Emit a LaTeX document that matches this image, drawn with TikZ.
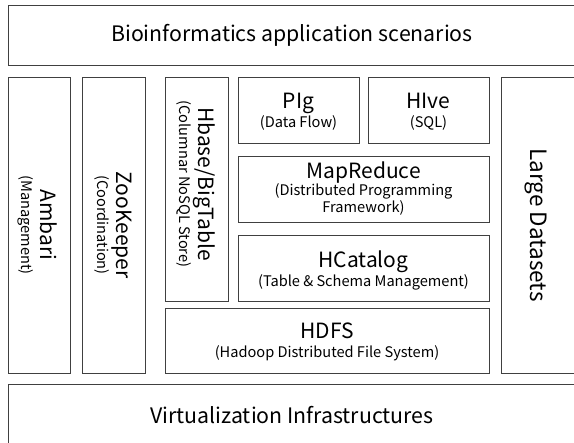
\documentclass[tikz,border=0pt]{standalone}
\usepackage{fontspec}
\setmainfont{Noto Sans CJK KR}
\tikzset{
  layer/.style={draw=black!75, line width=0.8pt, rectangle, inner sep=0pt},
  label/.style={inner sep=0pt, align=center, font=\smalltxt},
  vlabel/.style={label, rotate=-90},
}
\newcommand{\titletxt}{\fontsize{21.3}{26}\selectfont}
\newcommand{\bigtxt}{\fontsize{21}{26}\selectfont}
\newcommand{\smalltxt}{\fontsize{14.6}{19}\selectfont}
\begin{document}
\begin{tikzpicture}[x=1pt,y=-1pt]
  \useasboundingbox (0,0) rectangle (574,443);
  % top and bottom layers
  \node[layer, minimum width=568pt, minimum height=60pt] (apps) at (292,35) {};
  \node[label] at (apps) {\titletxt Bioinformatics application scenarios};
  \node[layer, minimum width=568pt, minimum height=62pt] (virt) at (292,415) {};
  \node[label] at (virt) {\titletxt Virtualization Infrastructures};
  % vertical side columns
  \node[layer, minimum width=62pt, minimum height=296pt] (ambari) at (39,225) {};
  \node[vlabel] at ([xshift=-2pt]ambari) {%
    \begin{tabular}{@{}c@{}}
      \bigtxt Ambari\\
      (Management)
    \end{tabular}};
  \node[layer, minimum width=63pt, minimum height=296pt] (zoo) at (113.5,225) {};
  \node[vlabel] at ([xshift=-2pt]zoo) {%
    \begin{tabular}{@{}c@{}}
      \bigtxt ZooKeeper\\
      (Coordination)
    \end{tabular}};
  \node[layer, minimum width=63pt, minimum height=224pt] (hbase) at (196.5,189) {};
  \node[vlabel] at ([xshift=-2pt,yshift=5pt]hbase) {%
    \begin{tabular}{@{}c@{}}
      \bigtxt Hbase/BigTable\\
      (Columnar NoSQL Store)
    \end{tabular}};
  \node[layer, minimum width=76pt, minimum height=296pt] (data) at (539,225) {};
  \node[vlabel] at ([xshift=-3pt]data) {\fontsize{22.5}{26}\selectfont Large Datasets};
  % hadoop stack
  \node[layer, minimum width=121pt, minimum height=66pt] (pig) at (298.5,110) {};
  \node[label] at ([yshift=-3pt]pig) {%
    \begin{tabular}{@{}c@{}}
      \bigtxt PIg\\
      (Data Flow)
    \end{tabular}};
  \node[layer, minimum width=121pt, minimum height=66pt] (hive) at (428.5,110) {};
  \node[label] at ([yshift=-3pt]hive) {%
    \begin{tabular}{@{}c@{}}
      \bigtxt HIve\\
      (SQL)
    \end{tabular}};
  \node[layer, minimum width=251pt, minimum height=66pt] (mapred) at (363.5,189) {};
  \node[label] at ([yshift=-1pt]mapred) {%
    \begin{tabular}{@{}c@{}}
      \bigtxt MapReduce\\[-2pt]
      (Distributed Programming\\[-2pt]
      Framework)
    \end{tabular}};
  \node[layer, minimum width=251pt, minimum height=66pt] (hcat) at (363.5,268) {};
  \node[label] at ([yshift=-3pt]hcat) {%
    \begin{tabular}{@{}c@{}}
      \bigtxt HCatalog\\
      (Table \& Schema Management)
    \end{tabular}};
  \node[layer, minimum width=324pt, minimum height=65pt] (hdfs) at (327,340.5) {};
  \node[label] at ([yshift=-3pt]hdfs) {%
    \begin{tabular}{@{}c@{}}
      \bigtxt HDFS\\
      (Hadoop Distributed File System)
    \end{tabular}};
\end{tikzpicture}
\end{document}
